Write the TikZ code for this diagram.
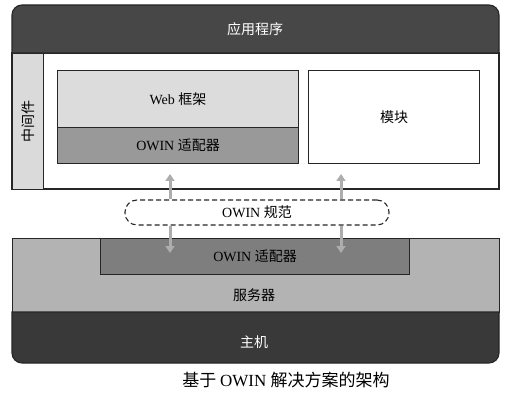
\documentclass[tikz,border=0pt]{standalone}
\usepackage{fontspec}
\setmainfont{Liberation Serif}
\newfontfamily\cjk{Noto Sans CJK SC}
\usetikzlibrary{positioning,arrows.meta}
\definecolor{appbar}{HTML}{474747}
\definecolor{mware}{HTML}{DADADA}
\definecolor{webfw}{HTML}{DCDCDC}
\definecolor{adapt}{HTML}{999999}
\definecolor{srv}{HTML}{B3B3B3}
\definecolor{srvad}{HTML}{7E7E7E}
\definecolor{hostc}{HTML}{393939}
\definecolor{arr}{HTML}{ADADAD}

\begin{document}
\begin{tikzpicture}[x=1pt, y=-1pt, font=\fontsize{14}{16}\selectfont,
  layer/.style={draw=black!85, line width=1.1pt, inner sep=0pt, anchor=north west},
  spec arrow/.style={draw=arr, line width=3pt, -{Triangle[width=9pt,length=7pt]}}]
\useasboundingbox (0,0) rectangle (516,395);
% application on top, middleware area under it
\draw[fill=white, line width=1.1pt, draw=black!85] (12,53) rectangle (499,189);
\draw[fill=appbar, line width=1.1pt, draw=black!85] (12,53) [rounded corners=10pt] -- (12,5) -- (499,5) [sharp corners] -- (499,53) -- cycle;
\node[text=white] (app) at (255,29) {\cjk 应用程序};
\node[layer, fill=mware, minimum width=31, minimum height=136] (mw) at (12,53) {};
\node[rotate=90] (mwname) at (mw.center) {\cjk 中间件};
\node[layer, fill=webfw, minimum width=241, minimum height=57] (web) at (57,70) {Web \cjk 框架};
\node[layer, fill=adapt, minimum width=241, minimum height=36] (appad) at (57,127) {OWIN \cjk 适配器};
\node[layer, fill=white, minimum width=171, minimum height=93] (mod) at (308,70) {\cjk 模块};
% server and host
\node[layer, fill=srv, minimum width=487, minimum height=74] (srv) at (12,238) {};
\node (srvname) at (254,295) {\cjk 服务器};
\node[layer, fill=srvad, minimum width=309, minimum height=36] (srvad) at (100,238) {OWIN \cjk 适配器};
\draw[fill=hostc, line width=1.1pt, draw=black!85] (12,312) [rounded corners=10pt] -- (12,363) -- (499,363) [sharp corners] -- (499,312) -- cycle;
\node[text=white] (host) at (254,342) {\cjk 主机};
% the spec in between
\node[draw=black!85, line width=1.1pt, dash pattern=on 5pt off 3pt, rounded corners=12pt,
  minimum width=264, minimum height=25] (spec) at (257,212.5) {OWIN \cjk 规范};
\foreach \x [count=\i] in {170,341} {
  \coordinate (up\i) at (\x,174);
  \coordinate (down\i) at (\x,253);
  \draw[spec arrow] (spec.north -| up\i) -- (up\i);
  \draw[spec arrow] (spec.south -| down\i) -- (down\i);
}
\node[font=\fontsize{17}{20}\selectfont] (caption) at (286,380) {\cjk 基于 \rmfamily OWIN \cjk 解决方案的架构};
\end{tikzpicture}
\end{document}
